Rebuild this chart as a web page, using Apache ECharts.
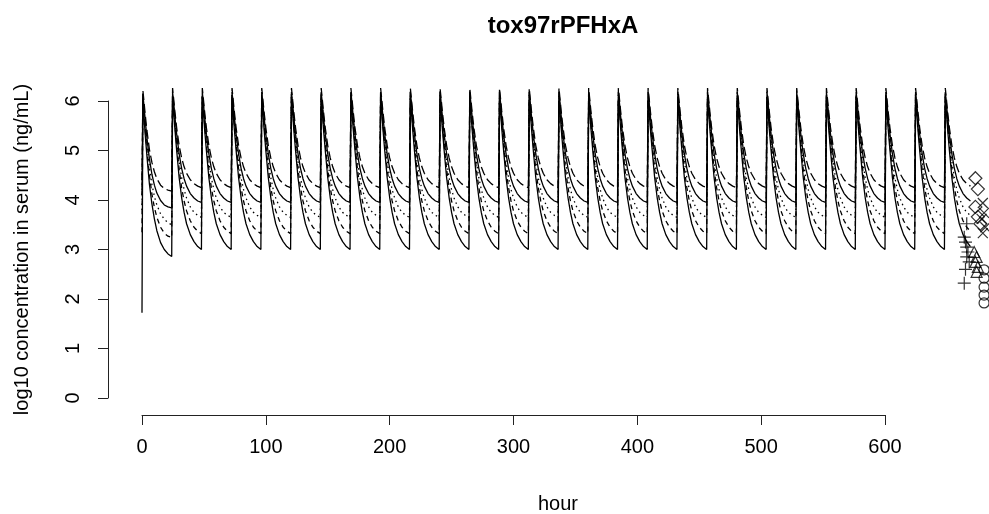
<!DOCTYPE html>
<html>
<head>
<meta charset="utf-8">
<script src="https://cdn.jsdelivr.net/npm/echarts@6/dist/echarts.min.js"></script>
<style>html,body{margin:0;padding:0;background:#fff}#c{width:989px;height:514px}</style>
</head>
<body>
<div id="c"></div>
<script>
// ---- data ----
const titleText = "tox97rPFHxA";
const xTicks = [0, 100, 200, 300, 400, 500, 600];
const yTicks = [0, 1, 2, 3, 4, 5, 6];
const doseTimes = [0, 24, 48, 72, 96, 120, 144, 168, 192, 216, 240, 264, 288, 312,
  336, 360, 384, 408, 432, 456, 480, 504, 528, 552, 576, 600, 624, 648];
const simEnd = 669;
// hours after each dose
const offsets = [0, 0.7, 1.5, 2.5, 4, 6, 8, 10, 12, 15, 18, 21, 24];
// first dosing interval (log10 ng/mL)
const firstA = [1.72, 5.95, 5.72, 5.35, 4.88, 4.32, 3.92, 3.62, 3.38, 3.14, 3.00, 2.91, 2.86];
const firstB = [3.35, 6.02, 5.80, 5.45, 5.00, 4.50, 4.12, 3.85, 3.65, 3.45, 3.33, 3.27, 3.24];
const firstC = [3.80, 6.08, 5.86, 5.55, 5.12, 4.66, 4.32, 4.07, 3.90, 3.72, 3.61, 3.54, 3.50];
const firstD = [4.10, 6.14, 5.93, 5.64, 5.25, 4.83, 4.52, 4.30, 4.14, 3.99, 3.90, 3.86, 3.84];
const firstE = [4.40, 6.22, 6.02, 5.75, 5.40, 5.02, 4.76, 4.57, 4.43, 4.30, 4.23, 4.20, 4.18];
// later dosing intervals
const cycleA = [3.00, 6.00, 5.80, 5.45, 5.00, 4.45, 4.05, 3.75, 3.52, 3.30, 3.16, 3.06, 3.00];
const cycleB = [3.32, 6.08, 5.88, 5.55, 5.12, 4.62, 4.25, 3.98, 3.78, 3.58, 3.45, 3.37, 3.32];
const cycleC = [3.65, 6.12, 5.92, 5.62, 5.22, 4.78, 4.45, 4.21, 4.04, 3.86, 3.75, 3.69, 3.65];
const cycleD = [3.95, 6.18, 5.98, 5.70, 5.33, 4.93, 4.64, 4.43, 4.28, 4.13, 4.04, 3.98, 3.95];
const cycleE = [4.25, 6.26, 6.06, 5.80, 5.46, 5.10, 4.85, 4.67, 4.54, 4.41, 4.33, 4.28, 4.25];
// observed values
const obsCircleT = [680, 680, 680, 680, 680];
const obsCircleV = [2.59, 2.42, 2.24, 2.08, 1.92];
const obsTriT = [672, 674, 673, 675, 674];
const obsTriV = [2.95, 2.85, 2.75, 2.65, 2.55];
const obsPlusT = [666, 664, 665, 666, 667, 666, 668, 665, 664];
const obsPlusV = [3.52, 3.25, 3.15, 3.05, 2.95, 2.85, 2.75, 2.60, 2.32];
const obsCrossT = [679, 680, 678, 681, 679];
const obsCrossV = [3.94, 3.74, 3.62, 3.45, 3.33];
const obsDiamT = [673, 675, 673, 675, 677];
const obsDiamV = [4.44, 4.22, 3.86, 3.66, 3.52];

function build(first, cycle) {
  const pts = [];
  doseTimes.forEach((d, k) => {
    const prof = k === 0 ? first : cycle;
    offsets.forEach((o, j) => {
      if (k > 0 && j === 0) return;
      const t = d + o;
      if (t <= simEnd) pts.push([t, prof[j]]);
    });
  });
  return pts;
}
function pairs(ts, vs) { return ts.map((t, i) => [t, vs[i]]); }

// ---- layout ----
const W = 989, H = 514;
const X0PX = 142, X600PX = 885, Y0PX = 398, Y6PX = 101;
const pxPerHour = (X600PX - X0PX) / 600;
const pxPerUnit = (Y0PX - Y6PX) / 6;
const dataXMax = (W - X0PX) / pxPerHour;
const dataTopPx = 51;
const dataYMax = (Y0PX - dataTopPx) / pxPerUnit;

const FONT = '"Liberation Sans", Arial, sans-serif';
const lineDefs = [
  [firstA, cycleA, 'solid'],
  [firstB, cycleB, [5, 4]],
  [firstC, cycleC, [1.5, 3.5]],
  [firstD, cycleD, 'solid'],
  [firstE, cycleE, [9, 4]]
];
const series = lineDefs.map(([f, c, ty]) => ({
  type: 'line', xAxisIndex: 0, yAxisIndex: 0,
  data: build(f, c), symbol: 'none', silent: true,
  lineStyle: { color: '#000', width: 1.3, type: ty }, animation: false
}));
const PLUS = 'path://M0,5L10,5M5,0L5,10';
const CROSS = 'path://M0,0L10,10M0,10L10,0';
const obsDefs = [
  [obsCircleT, obsCircleV, 'circle', 10],
  [obsTriT, obsTriV, 'triangle', 11],
  [obsPlusT, obsPlusV, PLUS, 13],
  [obsCrossT, obsCrossV, CROSS, 10],
  [obsDiamT, obsDiamV, 'diamond', 13]
];
obsDefs.forEach(([t, v, sym, sz]) => series.push({
  type: 'scatter', xAxisIndex: 0, yAxisIndex: 0,
  data: pairs(t, v), symbol: sym, symbolSize: sz, clip: false, silent: true,
  itemStyle: { color: 'rgba(0,0,0,0)', borderColor: '#000', borderWidth: 1.2 }, animation: false
}));

const chart = echarts.init(document.getElementById('c'), null, { renderer: 'canvas' });
chart.setOption({
  backgroundColor: '#fff',
  animation: false,
  title: {
    text: titleText, left: 558, top: 9, textAlign: 'center',
    textStyle: { fontFamily: FONT, fontWeight: 'bold', fontSize: 24, color: '#000' }
  },
  grid: [
    { left: X0PX, right: 0, top: dataTopPx, bottom: H - Y0PX, containLabel: false, outerBoundsMode: 'none' },
    { left: X0PX, right: W - X600PX, top: Y6PX, bottom: H - Y0PX, containLabel: false, outerBoundsMode: 'none' }
  ],
  xAxis: [
    { gridIndex: 0, type: 'value', min: 0, max: dataXMax, show: false },
    {
      gridIndex: 1, type: 'value', min: xTicks[0], max: xTicks[xTicks.length - 1], interval: 100,
      offset: 17,
      name: 'hour', nameLocation: 'middle', nameGap: 79,
      nameTextStyle: { fontFamily: FONT, fontSize: 20, color: '#000', padding: [0, 0, 0, 89] },
      axisLine: { show: true, onZero: false, lineStyle: { color: '#222', width: 1 } },
      axisTick: { show: true, length: 10, lineStyle: { color: '#222' } },
      axisLabel: { fontFamily: FONT, fontSize: 20, color: '#000', margin: 22 },
      splitLine: { show: false }
    }
  ],
  yAxis: [
    { gridIndex: 0, type: 'value', min: 0, max: dataYMax, show: false },
    {
      gridIndex: 1, type: 'value', min: yTicks[0], max: yTicks[yTicks.length - 1], interval: 1,
      offset: 34,
      name: 'log10 concentration in serum (ng/mL)', nameLocation: 'middle', nameGap: 76,
      nameTextStyle: { fontFamily: FONT, fontSize: 20, color: '#000' },
      axisLine: { show: true, onZero: false, lineStyle: { color: '#222', width: 1 } },
      axisTick: { show: true, length: 10, lineStyle: { color: '#222' } },
      axisLabel: { fontFamily: FONT, fontSize: 20, color: '#000', rotate: 90, margin: 25 },
      splitLine: { show: false }
    }
  ],
  series: series
});
</script>
</body>
</html>
